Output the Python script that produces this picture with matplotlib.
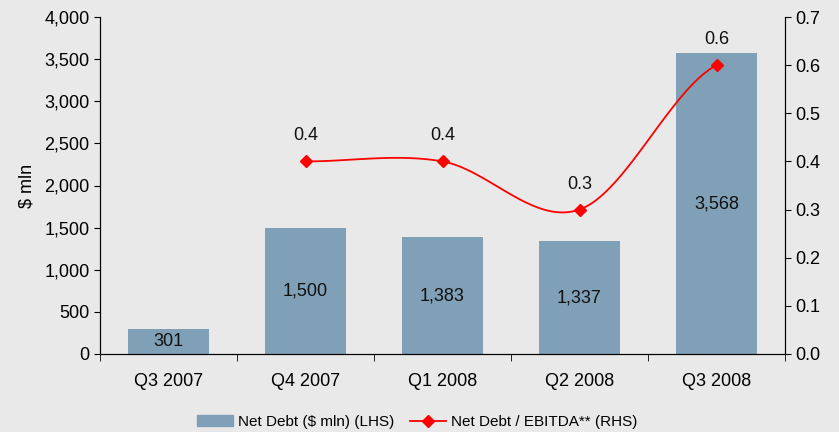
import numpy as np
import matplotlib
matplotlib.use("Agg")
from matplotlib import pyplot as plt
from matplotlib.lines import Line2D
from matplotlib.patches import Patch

plt.rcParams['font.family'] = ['Liberation Sans', 'DejaVu Sans']

categories = ["Q3 2007", "Q4 2007", "Q1 2008", "Q2 2008", "Q3 2008"]
net_debt = [301, 1500, 1383, 1337, 3568]
debt_labels = ["301", "1,500", "1,383", "1,337", "3,568"]
ratio_x = [1, 2, 3, 4]
ratio = [0.4, 0.4, 0.3, 0.6]

bg = "#e9e9e9"
bar_col = "#7fa0b6"
fs = 13


def smooth(xs, ys, n=40):
    # excel-ish smoothed line (catmull-rom)
    xs = np.asarray(xs, float)
    ys = np.asarray(ys, float)
    px = np.concatenate([[2 * xs[0] - xs[1]], xs, [2 * xs[-1] - xs[-2]]])
    py = np.concatenate([[ys[0]], ys, [ys[-1]]])
    ox, oy = [], []
    for i in range(1, len(px) - 2):
        t = np.linspace(0, 1, n)
        for p, out in ((px, ox), (py, oy)):
            p0, p1, p2, p3 = p[i - 1], p[i], p[i + 1], p[i + 2]
            c1 = p1 + (p2 - p0) / 6
            c2 = p2 - (p3 - p1) / 6
            out.extend((1 - t) ** 3 * p1 + 3 * (1 - t) ** 2 * t * c1
                       + 3 * (1 - t) * t ** 2 * c2 + t ** 3 * p2)
    return ox, oy


fig = plt.figure(figsize=(8.39, 4.32), dpi=100)
fig.patch.set_facecolor(bg)
ax = fig.add_axes([100 / 839, 1 - 354 / 432, 685 / 839, 337 / 432])
ax.set_facecolor(bg)

x = np.arange(len(categories))
ax.bar(x, net_debt, width=0.59, color=bar_col, zorder=2)
for xi, v, lab in zip(x, net_debt, debt_labels):
    ax.text(xi, v / 2, lab, ha="center", va="center", fontsize=fs, color="#111111", zorder=4)

ax.set_xlim(-0.5, 4.5)
ax.set_ylim(0, 4000)
ax.set_yticks(np.arange(0, 4001, 500))
ax.set_yticklabels([f"{v:,}" for v in range(0, 4001, 500)])
ax.set_xticks(x)
ax.set_xticklabels(categories)
ax.set_xticks(np.arange(-0.5, 4.6, 1), minor=True)
ax.tick_params(axis="x", which="major", length=0, pad=14, labelsize=fs)
ax.tick_params(axis="x", which="minor", length=5, direction="out")
ax.tick_params(axis="y", labelsize=fs, length=4)
ax.set_ylabel("$ mln", fontsize=fs, labelpad=6)
ax.spines["top"].set_visible(False)

ax2 = ax.twinx()
sx, sy = smooth(ratio_x, ratio)
ax2.plot(sx, sy, color="#ff0000", lw=1.3, zorder=3)
ax2.plot(ratio_x, ratio, ls="none", marker="D", ms=6, color="#ff0000", zorder=3)
for xi, v in zip(ratio_x, ratio):
    ax2.text(xi, v + 0.053, f"{v:.1f}", ha="center", va="center", fontsize=fs, color="#111111")
ax2.set_ylim(0, 0.7)
ax2.set_yticks(np.arange(0, 0.71, 0.1))
ax2.set_yticklabels([f"{v:.1f}" for v in np.arange(0, 0.71, 0.1)])
ax2.tick_params(axis="y", labelsize=fs, length=4)
ax2.spines["top"].set_visible(False)
ax2.set_facecolor("none")

handles = [Patch(color=bar_col),
           Line2D([], [], color="#ff0000", lw=1.3, marker="D", ms=6)]
fig.legend(handles, ["Net Debt ($ mln) (LHS)", "Net Debt / EBITDA** (RHS)"],
           loc="center", bbox_to_anchor=(417 / 839, 1 - 422 / 432), ncol=2,
           frameon=False, fontsize=11, handlelength=2.4, handleheight=0.75,
           columnspacing=1.0, handletextpad=0.3)

fig.savefig("out.png", dpi=100, facecolor=bg)
